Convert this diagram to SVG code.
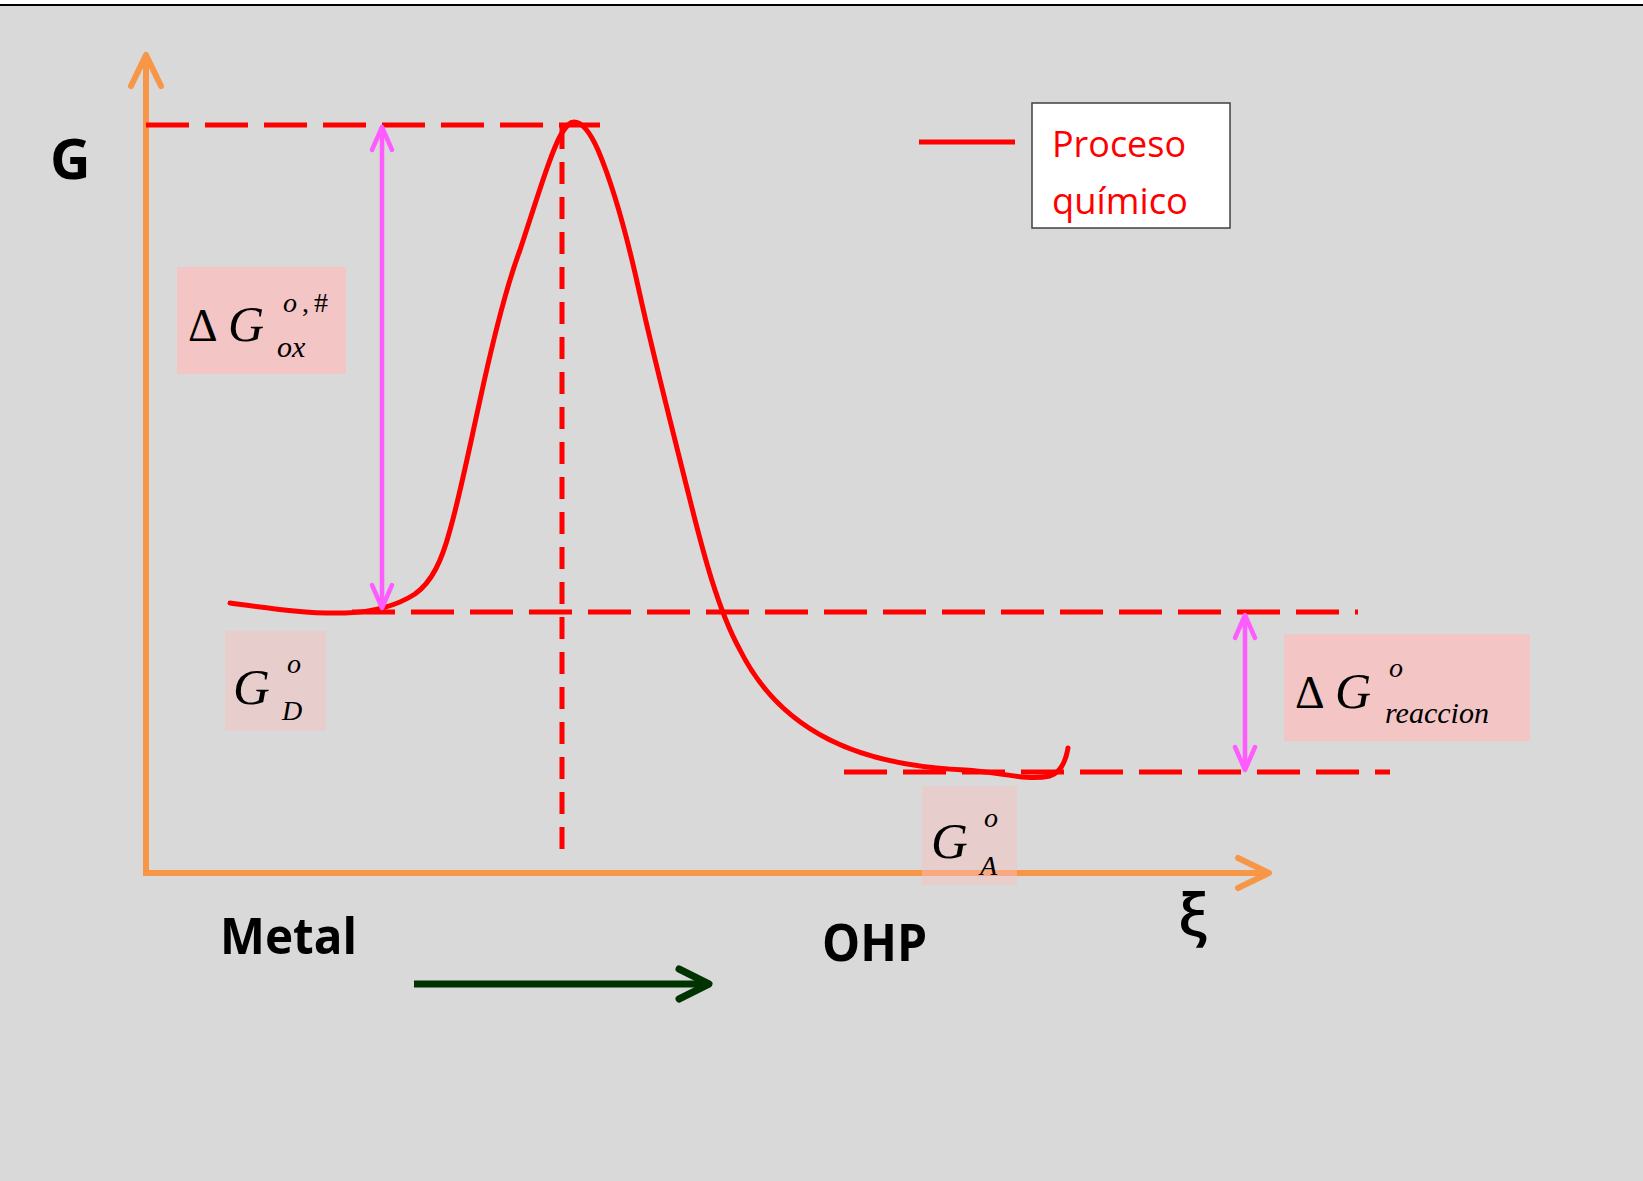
<svg xmlns="http://www.w3.org/2000/svg" width="1643" height="1181" viewBox="0 0 1643 1181">
<style>
.dash{fill:none;stroke:#FF0000;stroke-width:5;stroke-dasharray:43 16}
.vdash{fill:none;stroke:#FF0000;stroke-width:5;stroke-dasharray:22 13}
.curve{fill:none;stroke:#FF0000;stroke-width:5;stroke-linecap:round;stroke-linejoin:round}
.axis{fill:none;stroke:#F79646;stroke-width:6;stroke-linejoin:miter}
.dim{fill:none;stroke:#FF5CFF;stroke-width:4.5}
.gr{fill:none;stroke:#003300;stroke-width:7}
.box{fill:#F9BFBF}
.m{font-family:"Liberation Serif","Times New Roman",serif;fill:#000}
.i{font-style:italic}
.b{font-family:"Open Sans","Noto Sans",sans-serif;font-weight:bold;fill:#000}
.leg{font-family:"Open Sans","Noto Sans",sans-serif;font-size:36px;fill:#FF0000}
</style>
<defs>
<marker id="aO" markerUnits="userSpaceOnUse" orient="auto-start-reverse" refX="0" refY="0" markerWidth="60" markerHeight="60" viewBox="-40 -30 60 60" overflow="visible">
<path d="M-31,-15 L0,0 L-31,15" fill="none" stroke="#F79646" stroke-width="6" stroke-linecap="round" stroke-linejoin="round"/>
</marker>
<marker id="aM" markerUnits="userSpaceOnUse" orient="auto-start-reverse" refX="0" refY="0" markerWidth="60" markerHeight="60" viewBox="-40 -30 60 60" overflow="visible">
<path d="M-23,-10 L0,0 L-23,10" fill="none" stroke="#FF5CFF" stroke-width="4.5" stroke-linecap="round" stroke-linejoin="round"/>
</marker>
<marker id="aG" markerUnits="userSpaceOnUse" orient="auto" refX="0" refY="0" markerWidth="60" markerHeight="60" viewBox="-40 -30 60 60" overflow="visible">
<path d="M-30,-15 L0,0 L-30,15" fill="none" stroke="#003300" stroke-width="7" stroke-linecap="round" stroke-linejoin="round"/>
</marker>
</defs>
<rect x="0" y="0" width="1643" height="1181" fill="#D9D9D9"/>
<rect x="0" y="0" width="1643" height="4" fill="#FFFFFF"/>
<rect x="0" y="4" width="1643" height="2" fill="#000000"/>

<g id="axes">
<path class="axis" d="M146,55 L146,873 L1269,873" marker-start="url(#aO)" marker-end="url(#aO)"/>
</g>

<g id="reference-lines">
<path class="dash" d="M146,125 H600"/>
<path class="dash" d="M352,612 H1358"/>
<path class="dash" d="M844,772 H1390"/>
<path class="vdash" d="M562,127 V853"/>
</g>

<g id="curve">
<path class="curve" d="M230,603 C275,609 310,614 345,613 C375,612 398,605 415,594 C432,582 442,560 450,530 C460,495 470,445 480,400 C493,340 505,290 520,250 C535,205 552,148 562,133 C567,125 570,122 574,122 C582,122 590,132 598,150 C615,190 628,240 640,295 C652,350 670,420 690,500 C703,552 718,610 740,650 C760,690 790,720 830,740 C870,760 920,768 965,770 C1000,772 1025,781 1050,776 C1062,772 1066,760 1068,748"/>
</g>

<g id="connectors">
<path class="dim" d="M382,127 V608" marker-start="url(#aM)" marker-end="url(#aM)"/>
<path class="dim" d="M1245,615 V770" marker-start="url(#aM)" marker-end="url(#aM)"/>
<path class="gr" d="M414,984 H709" marker-end="url(#aG)"/>
</g>

<g id="label-dGox">
<rect class="box" x="177" y="267" width="169" height="107" opacity="0.8"/>
<text class="m" x="188" y="341" font-size="46">Δ</text>
<text class="m i" x="228" y="341" font-size="50">G</text>
<text class="m i" x="283" y="312" font-size="28">o</text>
<text class="m" x="302" y="312" font-size="28">,</text>
<text class="m" x="314" y="312" font-size="28">#</text>
<text class="m i" x="277" y="357" font-size="30">ox</text>
</g>

<g id="label-GD">
<rect class="box" x="225" y="631" width="101" height="100" opacity="0.47"/>
<text class="m i" x="233" y="704" font-size="51">G</text>
<text class="m i" x="287" y="673" font-size="28">o</text>
<text class="m i" x="282" y="720" font-size="28">D</text>
</g>

<g id="label-GA">
<rect class="box" x="922" y="786" width="95" height="99" opacity="0.47"/>
<text class="m i" x="931" y="858" font-size="51">G</text>
<text class="m i" x="984" y="827" font-size="28">o</text>
<text class="m i" x="980" y="875" font-size="28">A</text>
</g>

<g id="label-dGreac">
<rect class="box" x="1284" y="634" width="246" height="107" opacity="0.8"/>
<text class="m" x="1295" y="708" font-size="46">Δ</text>
<text class="m i" x="1335" y="708" font-size="50">G</text>
<text class="m i" x="1389" y="677" font-size="28">o</text>
<text class="m i" x="1385" y="723" font-size="30" textLength="104" lengthAdjust="spacingAndGlyphs">reaccion</text>
</g>

<g id="legend">
<path d="M919,142 H1015" fill="none" stroke="#FF0000" stroke-width="5"/>
<rect x="1032" y="103" width="198" height="125" fill="#FFFFFF" stroke="#404040" stroke-width="1.5"/>
<text class="leg" x="1052" y="157" textLength="134" lengthAdjust="spacingAndGlyphs">Proceso</text>
<text class="leg" x="1052" y="214" textLength="136" lengthAdjust="spacingAndGlyphs">químico</text>
</g>

<g id="axis-labels">
<text class="b" x="50" y="179" font-size="56">G</text>
<text class="b" x="220" y="954" font-size="50" textLength="137" lengthAdjust="spacingAndGlyphs">Metal</text>
<text class="b" x="822" y="961" font-size="52" textLength="105" lengthAdjust="spacingAndGlyphs">OHP</text>
<text x="1178" y="937" font-family="Open Sans, Noto Sans, sans-serif" font-weight="600" font-size="60" fill="#000">ξ</text>
</g>
</svg>
